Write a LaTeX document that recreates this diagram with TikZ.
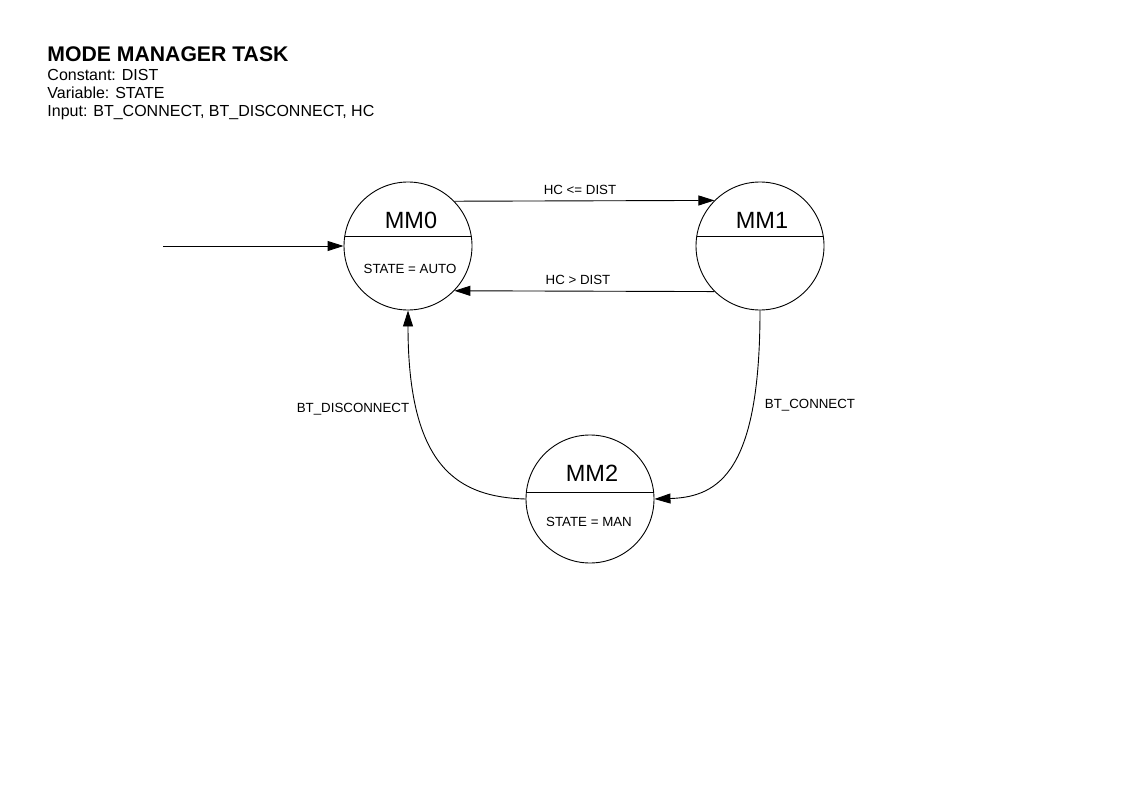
\documentclass[tikz,border=0pt]{standalone}
\usepackage{fontspec}
\setmainfont{Liberation Sans}
\usetikzlibrary{arrows.meta}

\begin{document}
\begin{tikzpicture}[x=1pt,y=-1pt,line width=0.9pt,
  state/.style={draw,circle,minimum size=128pt,inner sep=0pt},
  lbl/.style={font=\fontsize{13.3}{15}\selectfont},
  big/.style={font=\fontsize{23.5}{26}\selectfont},
  hd/.style={anchor=base west,inner sep=0pt,font=\fontsize{16}{18}\selectfont},
  tr/.style={-{Triangle[length=16pt,width=10pt]}}]
\useasboundingbox (0,0) rectangle (1123,794);
\node [hd,font=\fontsize{21.2}{24}\bfseries\selectfont] (title) at (47,62) {MODE MANAGER TASK};
\node [hd] (const) at (47,81) {Constant: DIST};
\node [hd] (var) at (47,99) {Variable: STATE};
\node [hd] (inp) at (47,117) {Input: BT\_CONNECT, BT\_DISCONNECT, HC};
% states
\node [state] (mm0) at (408,246) {};
\node [state] (mm1) at (760,246) {};
\node [state] (mm2) at (590,499) {};
\draw (344.8,236) -- (471.2,236);
\draw (696.8,236) -- (823.2,236);
\draw (526.1,492) -- (653.9,492);
\node [big] (n0) at (411,220) {MM0};
\node [big] (n1) at (762,220) {MM1};
\node [big] (n2) at (592,473) {MM2};
\node [lbl] (s0) at (410,269) {STATE = AUTO};
\node [lbl] (s2) at (589,522) {STATE = MAN};
% transitions
\coordinate (init) at (163,246);
\draw [tr] (init) -- (mm0.west);
\draw [tr] (mm0.44.7) -- (mm1.135.3);
\draw [tr] (mm1.-135.3) -- (mm0.-44.7);
\draw [tr] (mm1.south) .. controls (760,470) and (720,497) .. (mm2.east);
\draw [tr] (mm2.west) .. controls (460,497) and (408,470) .. (mm0.south);
\node [lbl] (le) at (580,190) {HC <= DIST};
\node [lbl] (gt) at (578,280) {HC > DIST};
\node [lbl] (bc) at (810,405) {BT\_CONNECT};
\node [lbl] (bd) at (353,409) {BT\_DISCONNECT};
\end{tikzpicture}
\end{document}
